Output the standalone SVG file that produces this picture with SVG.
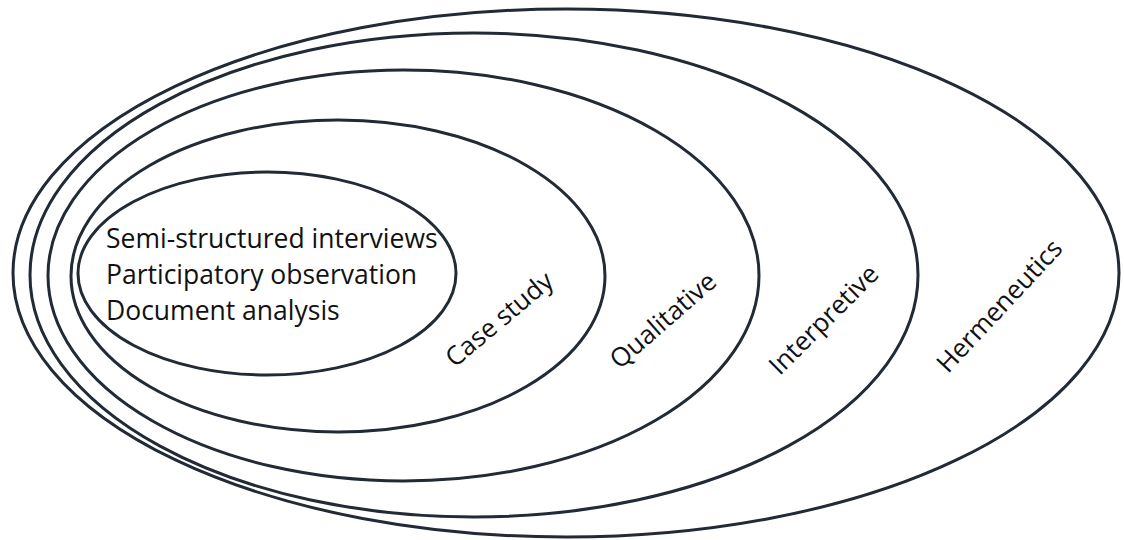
<svg xmlns="http://www.w3.org/2000/svg" width="1124" height="540" viewBox="0 0 1124 540">
  <style>
    .ring { fill: none; stroke: #222a35; stroke-width: 3; }
    .label { font-family: "Open Sans", "Liberation Sans", sans-serif; font-size: 26px; fill: #111; }
    .list { font-size: 26.5px; }
  </style>
  <rect width="1124" height="540" fill="#fff"/>
  <g id="hermeneutics">
    <ellipse class="ring" cx="566" cy="273" rx="553" ry="264"/>
    <text class="label" x="1006" y="312" text-anchor="middle" font-size="27.5" transform="rotate(-47 1006 312)">Hermeneutics</text>
  </g>
  <g id="interpretive">
    <ellipse class="ring" cx="474" cy="275" rx="444" ry="242"/>
    <text class="label" x="830" y="326" text-anchor="middle" font-size="27" transform="rotate(-45 830 326)">Interpretive</text>
  </g>
  <g id="qualitative">
    <ellipse class="ring" cx="403.5" cy="275.5" rx="355.5" ry="205.5"/>
    <text class="label" x="669" y="327" text-anchor="middle" font-size="25" transform="rotate(-41 669 327)">Qualitative</text>
  </g>
  <g id="case-study">
    <ellipse class="ring" cx="338" cy="276" rx="267" ry="156"/>
    <text class="label" x="505" y="326" text-anchor="middle" font-size="25" transform="rotate(-40 505 326)">Case study</text>
  </g>
  <g id="methods">
    <ellipse class="ring" cx="267" cy="273.5" rx="189" ry="101.5"/>
    <text class="label list" x="106" y="248">Semi-structured interviews</text>
    <text class="label list" x="106" y="284">Participatory observation</text>
    <text class="label list" x="106" y="320">Document analysis</text>
  </g>
</svg>
